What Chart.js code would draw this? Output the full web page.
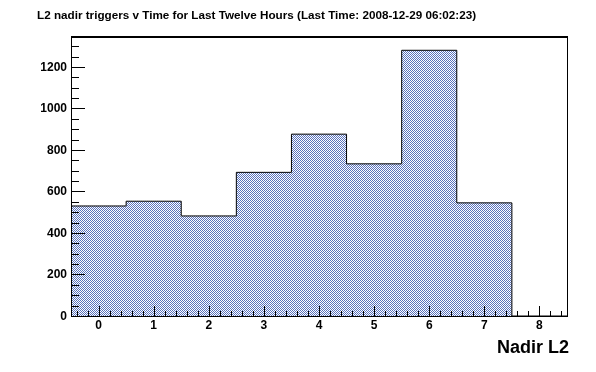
<!DOCTYPE html>
<html>
<head>
<meta charset="utf-8">
<script src="https://cdn.jsdelivr.net/npm/chart.js@4/dist/chart.umd.min.js"></script>
<style>
  html, body { margin: 0; padding: 0; background: #ffffff; overflow: hidden; }
  #wrap { width: 596px; height: 372px; position: relative; }
</style>
</head>
<body>
<div id="wrap"><canvas id="c" width="596" height="372"></canvas></div>
<script>
// ---- data ----
const titleText = "L2 nadir triggers v Time for Last Twelve Hours (Last Time: 2008-12-29 06:02:23)";
const xAxisTitle = "Nadir L2";
const categories = [0, 1, 2, 3, 4, 5, 6, 7, 8];
const counts = [530, 553, 482, 692, 876, 733, 1280, 545, 0];
const xTickLabels = ["0", "1", "2", "3", "4", "5", "6", "7", "8"];
const yTickValues = [0, 200, 400, 600, 800, 1000, 1200];
const yTickLabels = ["0", "200", "400", "600", "800", "1000", "1200"];

// ---- styles ----
const FONT = '"Liberation Sans", Arial, Helvetica, sans-serif';
const fillBlue = '#5872bc';

function makePattern() {
  const p = document.createElement('canvas');
  p.width = 2; p.height = 2;
  const g = p.getContext('2d');
  g.fillStyle = '#ffffff'; g.fillRect(0, 0, 2, 2);
  g.fillStyle = fillBlue;
  g.fillRect(0, 0, 1, 1);
  g.fillRect(1, 1, 1, 1);
  return document.getElementById('c').getContext('2d').createPattern(p, 'repeat');
}

// step outline points at bin edges built from categories + counts
const stepPoints = categories.map((c, i) => ({ x: c - 0.5, y: counts[i] }));
stepPoints.push({ x: categories[categories.length - 1] + 0.5, y: counts[counts.length - 1] });

const rootAxes = {
  id: 'rootAxes',
  afterDraw(chart) {
    const ctx = chart.ctx;
    const xs = chart.scales.x, ys = chart.scales.y;
    const a = chart.chartArea;
    ctx.save();
    ctx.strokeStyle = '#000';
    ctx.fillStyle = '#000';
    ctx.lineWidth = 1;
    // frame
    ctx.beginPath();
    ctx.moveTo(Math.round(a.left) + 0.5, Math.round(a.bottom) + 0.5);
    ctx.lineTo(Math.round(a.left) + 0.5, Math.round(a.top));
    ctx.moveTo(Math.round(a.right) + 0.5, Math.round(a.top));
    ctx.lineTo(Math.round(a.right) + 0.5, Math.round(a.bottom) + 0.5);
    ctx.moveTo(Math.round(a.left), Math.round(a.bottom) + 0.5);
    ctx.lineTo(Math.round(a.right) + 1, Math.round(a.bottom) + 0.5);
    ctx.stroke();
    ctx.lineWidth = 2;
    ctx.beginPath();
    ctx.moveTo(Math.round(a.left), Math.round(a.top));
    ctx.lineTo(Math.round(a.right) + 1, Math.round(a.top));
    ctx.stroke();
    ctx.lineWidth = 1;
    // x ticks (every 0.2, major every 1)
    ctx.beginPath();
    for (let k = -2; k <= 42; k++) {
      const v = k / 5;
      if (v < xs.min || v > xs.max) continue;
      const px = Math.round(xs.getPixelForValue(v)) + 0.5;
      const len = (k % 5 === 0) ? 10 : 5;
      ctx.moveTo(px, Math.round(a.bottom));
      ctx.lineTo(px, Math.round(a.bottom) - len);
    }
    // y ticks (every 50, major every 200)
    for (let v = 0; v <= ys.max; v += 50) {
      const py = Math.round(ys.getPixelForValue(v)) + 0.5;
      const len = (v % 200 === 0) ? 14 : 8;
      ctx.moveTo(Math.round(a.left), py);
      ctx.lineTo(Math.round(a.left) + len, py);
    }
    ctx.stroke();
    // tick labels
    ctx.font = 'bold 12px ' + FONT;
    ctx.textAlign = 'center';
    ctx.textBaseline = 'alphabetic';
    categories.forEach((c, i) => {
      ctx.fillText(xTickLabels[i], xs.getPixelForValue(c), Math.round(a.bottom) + 13);
    });
    ctx.textAlign = 'right';
    ctx.textBaseline = 'middle';
    yTickValues.forEach((v, i) => {
      ctx.fillText(yTickLabels[i], Math.round(a.left) - 4, ys.getPixelForValue(v) + 0.5);
    });
    // axis title
    ctx.font = 'bold 18px ' + FONT;
    ctx.textAlign = 'right';
    ctx.textBaseline = 'alphabetic';
    ctx.fillText(xAxisTitle, 569, 353);
    // main title
    ctx.font = 'bold 11.7px ' + FONT;
    ctx.textAlign = 'left';
    ctx.fillText(titleText, 37, 19);
    ctx.restore();
  }
};

new Chart(document.getElementById('c'), {
  type: 'line',
  data: {
    datasets: [{
      data: stepPoints,
      stepped: 'before',
      fill: 'origin',
      backgroundColor: makePattern(),
      borderColor: '#000000',
      borderWidth: 1,
      pointRadius: 0,
      tension: 0
    }]
  },
  options: {
    responsive: false,
    animation: false,
    devicePixelRatio: 1,
    layout: { padding: { left: 71, right: 29, top: 37, bottom: 56 } },
    plugins: { legend: { display: false }, tooltip: { enabled: false }, title: { display: false } },
    scales: {
      x: { type: 'linear', min: -0.5, max: 8.5, display: false },
      y: { type: 'linear', min: 0, max: 1344, display: false }
    }
  },
  plugins: [rootAxes]
});
</script>
</body>
</html>
